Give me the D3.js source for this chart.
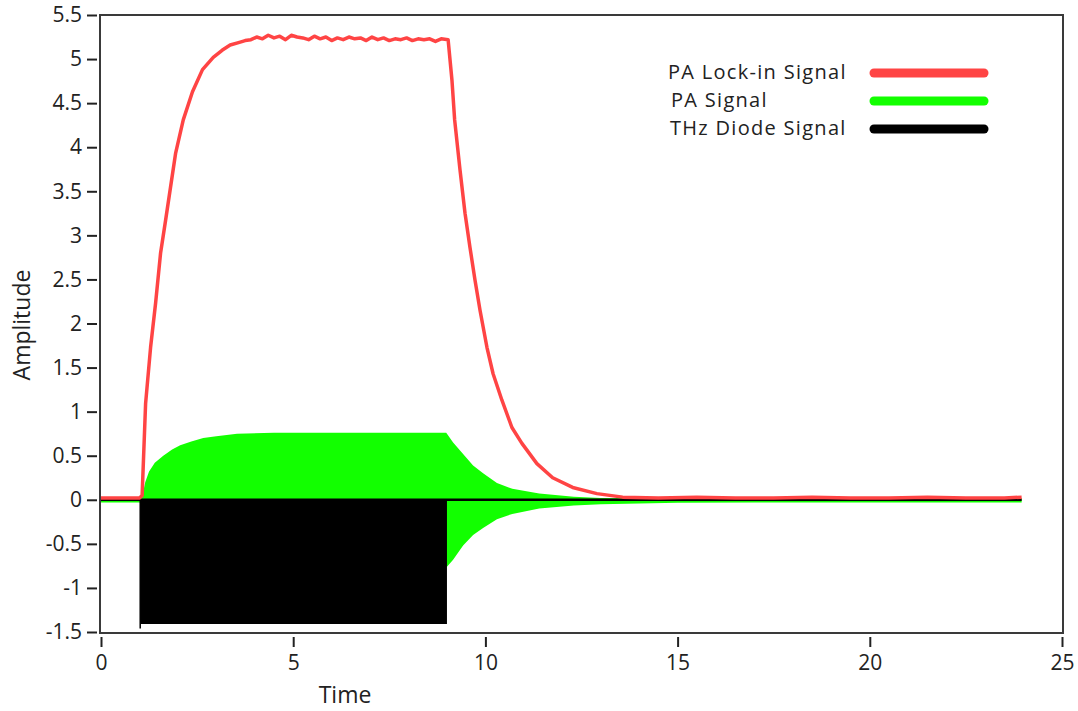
<!DOCTYPE html>
<html>
<head>
<meta charset="utf-8">
<script src="https://cdn.jsdelivr.net/npm/d3@7"></script>
<style>
  html, body { margin: 0; padding: 0; background: #fff; }
  svg { display: block; }
  text { font-family: "Open Sans", "DejaVu Sans", sans-serif; fill: #222; }
</style>
</head>
<body>
<svg id="chart" width="1078" height="711"></svg>
<script>
// ---------- data ----------
const xTicks = [0, 5, 10, 15, 20, 25];
const yTicks = [-1.5, -1, -0.5, 0, 0.5, 1, 1.5, 2, 2.5, 3, 3.5, 4, 4.5, 5, 5.5];

const seriesNames = ["PA Lock-in Signal", "PA Signal", "THz Diode Signal"];

// PA Lock-in Signal (red)
const lockinTime = [0, 1.0, 1.07, 1.16, 1.29, 1.42, 1.55, 1.68, 1.81, 1.94,
  2.14, 2.38, 2.64, 2.92, 3.15, 3.36, 3.6, 3.75,
  3.9, 4.05, 4.2, 4.35, 4.5, 4.65, 4.8, 4.95, 5.1, 5.25, 5.4, 5.55, 5.7, 5.85, 6.0, 6.15,
  6.3, 6.45, 6.6, 6.75, 6.9, 7.05, 7.2, 7.35, 7.5, 7.65, 7.8, 7.95, 8.1, 8.25, 8.4, 8.55, 8.7, 8.85,
  9.03, 9.13, 9.2, 9.34, 9.47, 9.6, 9.73, 9.86, 10.04, 10.2, 10.43, 10.69, 10.95, 11.34, 11.75,
  12.27, 12.9, 13.57, 14.5, 15.5, 16.5, 17.5, 18.5, 19.5, 20.5, 21.5, 22.5, 23.5, 23.95];
const lockinValue = [0.02, 0.02, 0.05, 1.09, 1.73, 2.23, 2.8, 3.17, 3.55, 3.93,
  4.31, 4.63, 4.88, 5.02, 5.1, 5.16, 5.19, 5.21,
  5.22, 5.25, 5.23, 5.27, 5.24, 5.26, 5.22, 5.27, 5.25, 5.24, 5.22, 5.26, 5.23, 5.25, 5.21, 5.24,
  5.22, 5.25, 5.23, 5.24, 5.21, 5.25, 5.22, 5.24, 5.21, 5.23, 5.22, 5.24, 5.21, 5.23, 5.22, 5.23, 5.2, 5.23,
  5.22, 4.76, 4.31, 3.74, 3.25, 2.86, 2.49, 2.15, 1.73, 1.43, 1.13, 0.82, 0.64, 0.41, 0.25,
  0.14, 0.07, 0.03, 0.02, 0.03, 0.02, 0.02, 0.03, 0.02, 0.02, 0.03, 0.02, 0.02, 0.03];

// PA Signal (green) – envelope of the fast oscillation
const paTime  = [0, 1.0, 1.07, 1.15, 1.25, 1.4, 1.62, 1.85, 2.06, 2.35, 2.66, 3.0, 3.54, 4.5, 6, 7.5, 8.98,
  9.0, 9.16, 9.42, 9.68, 9.94, 10.3, 10.7, 11.4, 12.3, 13, 15, 17, 19, 21, 23, 23.95];
const paUpper = [0, 0, 0.03, 0.2, 0.32, 0.42, 0.5, 0.57, 0.62, 0.66, 0.70, 0.72, 0.75, 0.76, 0.76, 0.76, 0.76,
  0.75, 0.65, 0.52, 0.39, 0.3, 0.19, 0.125, 0.07, 0.035, 0.02, 0.015, 0.015, 0.015, 0.015, 0.015, 0.015];
const paLower = [-0.03, -0.03, -0.05, -0.2, -0.32, -0.42, -0.5, -0.57, -0.62, -0.66, -0.70, -0.72, -0.75, -0.76, -0.76, -0.76, -0.76,
  -0.76, -0.68, -0.52, -0.4, -0.32, -0.22, -0.16, -0.1, -0.065, -0.05, -0.035, -0.03, -0.03, -0.03, -0.03, -0.03];

// THz Diode Signal (black) – envelope of the fast square modulation
const thzTime  = [0, 1.02, 1.02, 9.0, 9.0, 23.95];
const thzUpper = [0, 0, 0, 0, 0, 0];
const thzLower = [0, 0, -1.41, -1.41, 0, 0];

const colors = ["#ff4444", "#12ff00", "#000000"];

// ---------- chart ----------
const svg = d3.select("#chart");
const x = d3.scaleLinear().domain([0, 25]).range([101, 1062]);
const y = d3.scaleLinear().domain([-1.5, 5.5]).range([632, 15]);

svg.append("defs").append("clipPath").attr("id", "clip")
  .append("rect").attr("x", 101).attr("y", 15).attr("width", 961).attr("height", 617);

const plot = svg.append("g").attr("clip-path", "url(#clip)");

// green envelope
const paData = paTime.map((t, i) => ({t, hi: paUpper[i], lo: paLower[i]}));
plot.append("path").datum(paData)
  .attr("fill", colors[1])
  .attr("d", d3.area().x(d => x(d.t)).y0(d => y(d.lo)).y1(d => y(d.hi)));

// black envelope
const thzData = thzTime.map((t, i) => ({t, hi: thzUpper[i], lo: thzLower[i]}));
plot.append("path").datum(thzData)
  .attr("fill", colors[2])
  .attr("d", d3.area().x(d => x(d.t)).y0(d => y(d.lo)).y1(d => y(d.hi)));
plot.append("path").datum(thzData)
  .attr("fill", "none").attr("stroke", colors[2]).attr("stroke-width", 2.5)
  .attr("d", d3.line().x(d => x(d.t)).y(d => y(d.hi)));
// small spike at the start of the diode signal
plot.append("line")
  .attr("x1", x(thzTime[1])).attr("x2", x(thzTime[1]))
  .attr("y1", y(0)).attr("y2", y(-1.46))
  .attr("stroke", colors[2]).attr("stroke-width", 1.5);

// red lock-in line
const lockData = lockinTime.map((t, i) => ({t, v: lockinValue[i]}));
plot.append("path").datum(lockData)
  .attr("fill", "none").attr("stroke", colors[0]).attr("stroke-width", 3.5)
  .attr("stroke-linejoin", "round")
  .attr("d", d3.line().x(d => x(d.t)).y(d => y(d.v)));

// frame
svg.append("rect").attr("x", 100).attr("y", 15).attr("width", 963).attr("height", 618)
  .attr("fill", "none").attr("stroke", "#3a3a3a").attr("stroke-width", 2);

// axes
const tickFont = 21;
const titleFont = 23;
const legendFont = 20;
const fmt = d => String(d);
const yAxis = svg.append("g").attr("transform", "translate(97,0)")
  .call(d3.axisLeft(y).tickValues(yTicks).tickSize(10).tickPadding(5).tickFormat(fmt));
const xAxis = svg.append("g").attr("transform", "translate(0,637)")
  .call(d3.axisBottom(x).tickValues(xTicks).tickSize(10).tickPadding(8).tickFormat(fmt));
[yAxis, xAxis].forEach(a => {
  a.select(".domain").remove();
  a.selectAll(".tick line").attr("stroke", "#222").attr("stroke-width", 2);
  a.selectAll(".tick text").attr("font-family", '"Open Sans", sans-serif')
    .attr("font-size", tickFont).attr("fill", "#222");
});

// axis titles
svg.append("text").attr("x", 345).attr("y", 703).attr("text-anchor", "middle")
  .attr("font-size", titleFont).text("Time");
svg.append("text").attr("transform", "translate(30,325) rotate(-90)").attr("text-anchor", "middle")
  .attr("font-size", titleFont).text("Amplitude");

// legend
const legendY = [72, 100, 128];
const legendTextX = [668, 671, 670];
const legend = svg.append("g");
seriesNames.forEach((name, i) => {
  legend.append("text").attr("x", legendTextX[i]).attr("y", legendY[i]).attr("dy", "0.36em")
    .attr("font-size", legendFont).attr("letter-spacing", 1.3).text(name);
  legend.append("line").attr("x1", 874).attr("x2", 984)
    .attr("y1", legendY[i] + 1).attr("y2", legendY[i] + 1)
    .attr("stroke", colors[i]).attr("stroke-width", 9).attr("stroke-linecap", "round");
});
</script>
</body>
</html>
